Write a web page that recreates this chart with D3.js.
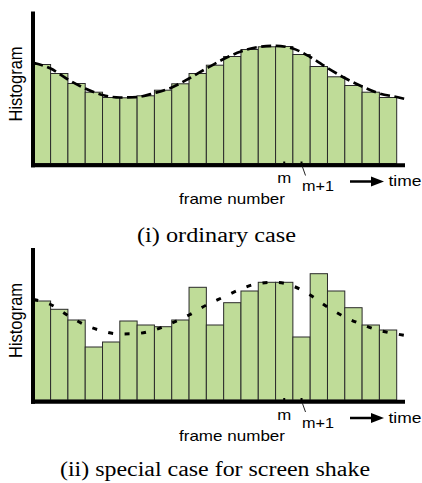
<!DOCTYPE html>
<html><head><meta charset="utf-8">
<script src="https://cdn.jsdelivr.net/npm/d3@7"></script>
<style>body{margin:0;background:#fff}</style>
</head><body><svg id="c" width="422" height="483"></svg>
<script>
// ---- data ----
const frames = d3.range(1, 22);
const ordinaryValues = [99, 90, 80, 71.3, 66, 65.7, 67.7, 73.3, 79.7, 90, 98.3, 107, 114, 116.7, 117, 109, 97, 86.7, 78, 71.3, 66];
const shakeValues = [99, 90.7, 80, 53, 58, 79, 75, 73.3, 80, 112.7, 75, 97.3, 109, 117.7, 117.7, 63, 126.3, 109, 92.3, 75, 70];
const trendPos = [0, 1, 2, 3, 4, 5, 6, 7, 8, 9, 10, 11, 12, 13, 14, 15, 16, 17, 18, 19, 20, 21, 21.5];
const ordinaryTrend = [100.7, 95, 84, 75, 68.5, 66, 66.5, 70.5, 76, 85, 95, 104.5, 112, 116.5, 117.7, 115, 106.5, 95.5, 85.5, 77, 70, 66.5, 64.5];
const shakeTrend = [100.5, 95.5, 84.5, 75, 69, 66, 66.5, 70, 77, 85, 95, 103, 111, 116.5, 117.7, 114, 105, 93, 83, 75.5, 69.5, 66, 64.5];
const markIndex = [14, 15];
const markLabels = ["m", "m+1"];
const axisLabels = { y: "Histogram", x: "frame number", time: "time" };
const captions = ["(i) ordinary case", "(ii) special case for screen shake"];

// ---- drawing ----
const svg = d3.select("#c");
const SANS = "Liberation Sans, Arial, sans-serif";
const SERIF = "Liberation Serif, Times New Roman, serif";
const x = d3.scaleLinear().domain([0, 21]).range([33.3, 396.7]);
const y = d3.scaleLinear().domain([0, 152]).range([163.5, 11.5]);

function fitText(g, txt, tx, ty, size, family, anchor, len) {
  g.append("text")
    .attr("x", tx).attr("y", ty)
    .attr("text-anchor", anchor)
    .attr("font-family", family)
    .attr("font-size", size)
    .attr("fill", "#000")
    .attr("textLength", len)
    .attr("lengthAdjust", "spacingAndGlyphs")
    .text(txt);
}

function panel(offset, values, trend, dash, dashWidth, caption, capX, capY, capLen) {
  const g = svg.append("g").attr("transform", `translate(0,${offset})`);
  // bars
  g.selectAll("rect.bar").data(values).join("rect")
    .attr("class", "bar")
    .attr("x", (d, i) => x(i))
    .attr("width", (d, i) => x(i + 1) - x(i))
    .attr("y", d => y(d))
    .attr("height", d => y(0) - y(d))
    .attr("fill", "#bfdc98")
    .attr("stroke", "#2a2a2a")
    .attr("stroke-width", 1);
  // trend curve
  const line = d3.line()
    .x((d, i) => x(trendPos[i]))
    .y(d => y(d))
    .curve(d3.curveMonotoneX);
  g.append("path").datum(trend)
    .attr("d", line)
    .attr("fill", "none")
    .attr("stroke", "#000")
    .attr("stroke-width", dashWidth)
    .attr("stroke-dasharray", dash);
  // axes
  g.append("line").attr("x1", 33).attr("x2", 33).attr("y1", y(152)).attr("y2", y(0) + 3.8)
    .attr("stroke", "#000").attr("stroke-width", 4);
  g.append("line").attr("x1", 31).attr("x2", 405).attr("y1", y(0) + 1.8).attr("y2", y(0) + 1.8)
    .attr("stroke", "#000").attr("stroke-width", 4);
  // marks m, m+1
  markIndex.forEach(i => {
    g.append("rect").attr("x", x(i + 0.5) - 1).attr("y", y(0) - 2).attr("width", 2).attr("height", 2).attr("fill", "#000");
  });
  const xm1 = x(markIndex[1] + 0.5);
  g.append("line").attr("x1", xm1 + 0.8).attr("y1", y(0) + 3).attr("x2", xm1 + 4).attr("y2", y(0) + 12)
    .attr("stroke", "#222").attr("stroke-width", 1);
  fitText(g, markLabels[0], x(markIndex[0] + 0.5), 183, 15, SANS, "middle", 14);
  fitText(g, markLabels[1], xm1 + 0.5, 191, 15, SANS, "start", 32);
  // time arrow
  g.append("line").attr("x1", 350).attr("x2", 373).attr("y1", 181.5).attr("y2", 181.5)
    .attr("stroke", "#000").attr("stroke-width", 2.5);
  g.append("path").attr("d", "M371,176.5 L384,181.5 L371,186.5 Z").attr("fill", "#000");
  fitText(g, axisLabels.time, 388.5, 186, 15, SANS, "start", 33);
  fitText(g, axisLabels.x, 232, 204, 15, SANS, "middle", 106);
  // y label
  g.append("text")
    .attr("transform", "translate(22,84) scale(1.12,1) rotate(-90)")
    .attr("text-anchor", "middle")
    .attr("font-family", SANS)
    .attr("font-size", 16)
    .attr("textLength", 75)
    .attr("lengthAdjust", "spacingAndGlyphs")
    .text(axisLabels.y);
  // caption
  fitText(g, caption, capX, capY, 20, SERIF, "middle", capLen);
}

panel(0, ordinaryValues, ordinaryTrend, "10,4.5", 2.7, captions[0], 216.5, 242, 159);
panel(236.5, shakeValues, shakeTrend, "5,11.5", 3, captions[1], 215, 239.2, 310);
</script></body></html>
